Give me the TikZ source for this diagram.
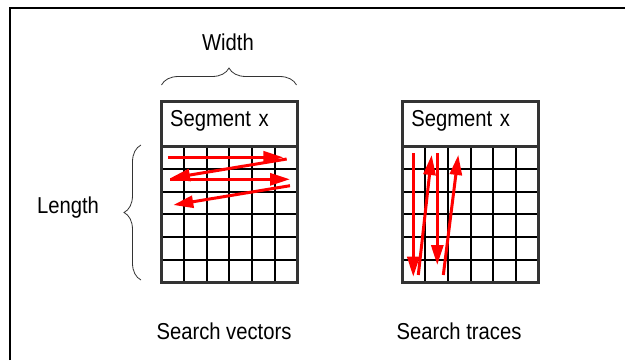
\documentclass[tikz,border=0pt]{standalone}
\usepackage{fontspec}
\setmainfont[FakeStretch=0.88]{Liberation Sans}
\usetikzlibrary{arrows.meta,positioning,calc,decorations.pathreplacing}
\definecolor{boxGray}{HTML}{333333}
\definecolor{braceGray}{HTML}{333333}
\definecolor{traceRed}{HTML}{FF0000}

\begin{document}
\begin{tikzpicture}[x=1pt, y=1pt,
    txt/.style={font=\fontsize{23}{27}\selectfont, inner sep=0pt},
    segtitle/.style={rectangle, draw=boxGray, line width=3pt, outer sep=0pt, minimum height=45.3pt, text width=118.5pt, inner xsep=9pt, inner ysep=0pt, text height=12pt, text depth=5.5pt, align=left, font=\fontsize{23}{27}\selectfont},
    cellarea/.style={rectangle, minimum width=136.5pt, minimum height=135.9pt, inner sep=0pt, outer sep=0pt},
    cellline/.style={draw=black, line width=2pt},
    cellframe/.style={draw=boxGray, line width=3pt},
    curly/.style={decorate, decoration={brace, amplitude=17pt}, draw=braceGray, line width=0.8pt},
    arrow/.style={-{Triangle[length=20pt, width=12pt]}, line width=3pt, draw=traceRed}
  ]
  \useasboundingbox (0,0) rectangle (625,360);
  % frame
  \draw[line width=2pt] (9.5,0) -- (9.5,352.3) -- (625,352.3);

  % segments
  \node[segtitle] (hdrA) at (229.3,236.35) {Segment x};
  \node[cellarea, below=0pt of hdrA] (gridA) {};
  \node[segtitle] (hdrB) at (470.5,236.35) {Segment x};
  \node[cellarea, below=0pt of hdrB] (gridB) {};

  \foreach \g in {gridA, gridB} {
    \foreach \i in {1,...,5} {
      \draw[cellline] ($(\g.south west)!\i/6!(\g.south east)$) -- ($(\g.north west)!\i/6!(\g.north east)$);
      \draw[cellline] ($(\g.south west)!\i/6!(\g.north west)$) -- ($(\g.south east)!\i/6!(\g.north east)$);
    }
    \draw[cellframe] (\g.south west) rectangle (\g.north east);
  }

  % braces
  \draw[curly] (161.5,275) -- (296.5,275) coordinate[midway] (wmid);
  \node[txt] (width) at (228,318) {Width};
  \draw[curly] (141,80) -- (141,215);
  \node[txt] (length) at (68,152) {Length};

  % vectors
  \coordinate (v1s) at (168.3,202.7); \coordinate (v1e) at (283.3,202.7);
  \coordinate (v2s) at (286.7,201);   \coordinate (v2e) at (170,181.7);
  \coordinate (v3s) at (170,180.7);   \coordinate (v3e) at (290,180.7);
  \coordinate (v4s) at (290,174.3);   \coordinate (v4e) at (173.3,155);
  \draw[arrow] (v1s) -- (v1e);
  \draw[arrow] (v2s) -- (v2e);
  \draw[arrow] (v3s) -- (v3e);
  \draw[arrow] (v4s) -- (v4e);

  % traces
  \coordinate (t1s) at (413.3,206.7); \coordinate (t1e) at (413.3,83.3);
  \coordinate (t2s) at (418.3,85);    \coordinate (t2e) at (431.7,205);
  \coordinate (t3s) at (437.3,206.7); \coordinate (t3e) at (437.3,95);
  \coordinate (t4s) at (443.3,85);    \coordinate (t4e) at (458.3,205);
  \draw[arrow] (t1s) -- (t1e);
  \draw[arrow] (t2s) -- (t2e);
  \draw[arrow] (t3s) -- (t3e);
  \draw[arrow] (t4s) -- (t4e);

  \node[txt] (vectors) at (224,29) {Search vectors};
  \node[txt] (traces) at (459,29) {Search traces};
\end{tikzpicture}
\end{document}
